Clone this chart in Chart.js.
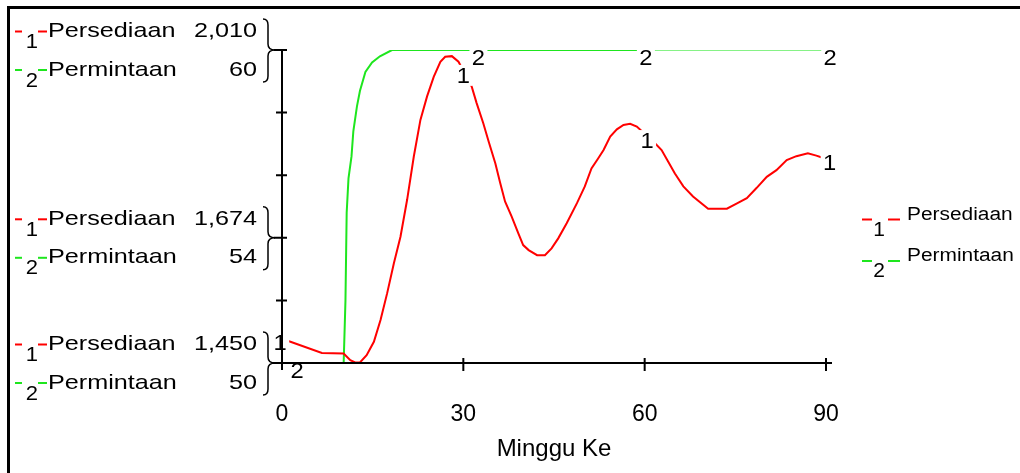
<!DOCTYPE html>
<html>
<head>
<meta charset="utf-8">
<script src="https://cdn.jsdelivr.net/npm/chart.js@4.4.1/dist/chart.umd.min.js"></script>
<style>
  html, body { margin: 0; padding: 0; background: #fff; }
  #wrap { width: 1020px; height: 473px; position: relative; }
</style>
</head>
<body>
<div id="wrap"><canvas id="chart" width="1020" height="473"></canvas></div>
<script>
// Persediaan (1)
const weekPersediaan = [0, 1.4, 6.6, 10.2, 11.3, 12.1, 12.9, 14.0, 15.2, 16.3, 17.4, 18.5, 19.6, 20.7, 21.8, 22.9, 24.0, 25.1, 26.2, 27.0, 28.1, 29.2,
  31.4, 32.2, 33.3, 34.2, 35.3, 36.1, 36.9, 38.0, 39.1, 39.9, 40.8, 42.2, 43.5, 44.6, 45.7, 47.1, 48.8, 50.1, 51.2, 52.3, 53.2, 54.3, 55.4, 56.5, 57.6, 58.7,
  61.7, 62.8, 63.9, 65.0, 66.4, 68.0, 70.5, 73.6, 75.2, 76.9, 78.5, 80.2, 81.8, 83.5, 85.1, 87.0, 88.4, 89.2, 90];
const valuesPersediaan = [1493, 1488, 1468, 1467, 1455, 1451, 1451, 1464, 1488, 1527, 1575, 1628, 1676, 1742, 1819, 1885, 1927, 1962, 1989, 1998, 1999, 1989,
  1944, 1915, 1879, 1846, 1807, 1772, 1739, 1712, 1682, 1661, 1652, 1643, 1643, 1655, 1673, 1700, 1736, 1766, 1798, 1816, 1831, 1855, 1868, 1876, 1878, 1873,
  1843, 1831, 1810, 1789, 1766, 1748, 1726, 1726, 1735, 1745, 1763, 1783, 1795, 1813, 1820, 1825, 1821, 1818, 1816];

// Permintaan (2)
const weekPermintaan = [0, 10.2, 10.5, 10.7, 11.0, 11.5, 11.8, 12.4, 12.9, 13.8, 14.9, 16.2, 18.2, 60, 90];
const valuesPermintaan = [50, 50, 52, 54.8, 55.9, 56.6, 57.4, 58.2, 58.7, 59.3, 59.6, 59.8, 60, 60, 60];

const xTicks = [0, 30, 60, 90];
const persediaanKeyValues = [2010, 1674, 1450];
const permintaanKeyValues = [60, 54, 50];
const persediaanLabelWeeks = [-0.3, 30, 60.4, 90.6];
const permintaanLabelWeeks = [2.5, 32.5, 60.2, 90.7];

const FONT = '"Liberation Sans", Arial, sans-serif';
const RED = '#ff0000';
const GREEN = '#1ee61e';
const GREEN_LIGHT = '#86f286';

function toPoints(xs, ys) {
  return xs.map((x, i) => ({ x: x, y: ys[i] }));
}

function valueAt(weeks, values, w) {
  for (let i = 1; i < weeks.length; i++) {
    if (w <= weeks[i] || i === weeks.length - 1) {
      if (w > weeks[i]) return values[i];
      const t = (w - weeks[i - 1]) / (weeks[i] - weeks[i - 1]);
      return values[i - 1] + t * (values[i] - values[i - 1]);
    }
  }
  return values[values.length - 1];
}

// text drawn with a slight horizontal stretch, y is the cap-height centre
function stretchText(ctx, text, x, y, size, sx, align) {
  ctx.save();
  ctx.font = size + 'px ' + FONT;
  ctx.fillStyle = '#000';
  ctx.textBaseline = 'alphabetic';
  ctx.textAlign = 'left';
  const w = ctx.measureText(text).width * sx;
  let left = x;
  if (align === 'right') left = x - w;
  if (align === 'center') left = x - w / 2;
  ctx.translate(left, y + size * 0.358);
  ctx.scale(sx, 1);
  ctx.fillText(text, 0, 0);
  ctx.restore();
  return w;
}

function dash(ctx, x1, x2, y, color) {
  ctx.save();
  ctx.strokeStyle = color;
  ctx.lineWidth = 2;
  ctx.beginPath();
  ctx.moveTo(x1, y);
  ctx.lineTo(x2, y);
  ctx.stroke();
  ctx.restore();
}

function drawKey(ctx, x, cy, num, color, label, k) {
  dash(ctx, x, x + k.d1, cy + k.dy, color);
  stretchText(ctx, num, x + k.nx, cy + k.ny, k.numSize, 1.05, 'center');
  dash(ctx, x + k.d2a, x + k.d2b, cy + k.dy, color);
  stretchText(ctx, label, x + k.tx, cy, k.size, k.sx, 'left');
}

function drawBrace(ctx, x, t) {
  ctx.save();
  ctx.strokeStyle = '#000';
  ctx.lineWidth = 1.5;
  ctx.beginPath();
  ctx.moveTo(x - 12, t - 31);
  ctx.quadraticCurveTo(x - 7, t - 31, x - 7, t - 25);
  ctx.lineTo(x - 7, t - 6);
  ctx.quadraticCurveTo(x - 7, t, x, t);
  ctx.quadraticCurveTo(x - 7, t, x - 7, t + 6);
  ctx.lineTo(x - 7, t + 26);
  ctx.quadraticCurveTo(x - 7, t + 32, x - 12, t + 32);
  ctx.stroke();
  ctx.restore();
}

const leftKey = { d1: 7, nx: 17, ny: 11, numSize: 21, d2a: 23, d2b: 32, tx: 33, dy: 2, size: 21, sx: 1.2 };
const rightKey = { d1: 10, nx: 17, ny: 15, numSize: 20, d2a: 26, d2b: 38, tx: 45, dy: 6, size: 18, sx: 1.16 };

const stellaDecor = {
  id: 'stellaDecor',
  beforeDraw(chart) {
    const ctx = chart.ctx;
    ctx.save();
    ctx.fillStyle = '#000';
    ctx.fillRect(7, 6, 1013, 3);
    ctx.fillRect(7, 6, 3, 467);
    ctx.restore();
  },
  afterDatasetsDraw(chart) {
    const ctx = chart.ctx;
    const xs = chart.scales.x;
    const y1 = chart.scales.y;
    const y2 = chart.scales.y2;

    // curve number labels on white boxes
    const labelSets = [
      { weeks: persediaanLabelWeeks, xsData: weekPersediaan, vals: valuesPersediaan, scale: y1, num: '1', dy: 4 },
      { weeks: permintaanLabelWeeks, xsData: weekPermintaan, vals: valuesPermintaan, scale: y2, num: '2', dy: 7 }
    ];
    labelSets.forEach((set) => {
      set.weeks.forEach((w) => {
        const px = xs.getPixelForValue(w);
        const py = set.scale.getPixelForValue(valueAt(set.xsData, set.vals, w)) + set.dy;
        ctx.save();
        ctx.fillStyle = '#fff';
        ctx.fillRect(px - 9, py - 10, 18, 21);
        ctx.restore();
        stretchText(ctx, set.num, px, py, 22, 1.08, 'center');
      });
    });

    // axes
    const ax = xs.getPixelForValue(0);
    const bottom = y1.getPixelForValue(1450);
    const top = y1.getPixelForValue(2010);
    ctx.save();
    ctx.strokeStyle = '#000';
    ctx.lineWidth = 2;
    ctx.beginPath();
    ctx.moveTo(ax, top);
    ctx.lineTo(ax, bottom + 7);
    ctx.moveTo(ax - 10, bottom);
    ctx.lineTo(xs.getPixelForValue(90) + 6, bottom);
    for (let v = 1450; v <= 2010; v += 112) {
      const py = y1.getPixelForValue(v);
      ctx.moveTo(ax - 6, py);
      ctx.lineTo(ax + 5, py);
    }
    persediaanKeyValues.forEach((v) => {
      const py = y1.getPixelForValue(v);
      ctx.moveTo(ax - 8, py);
      ctx.lineTo(ax, py);
    });
    xTicks.slice(1).forEach((w) => {
      const px = xs.getPixelForValue(w);
      ctx.moveTo(px, bottom - 5);
      ctx.lineTo(px, bottom + 8);
    });
    ctx.stroke();
    ctx.restore();

    // left scale keys with braces
    persediaanKeyValues.forEach((v, i) => {
      const t = y1.getPixelForValue(v);
      drawBrace(ctx, ax - 7, t);
      drawKey(ctx, 15, t - 20.5, '1', RED, 'Persediaan', leftKey);
      stretchText(ctx, v.toLocaleString('en-US'), 257, t - 20.5, 21, 1.2, 'right');
      drawKey(ctx, 15, t + 18, '2', GREEN, 'Permintaan', leftKey);
      stretchText(ctx, String(permintaanKeyValues[i]), 257, t + 18, 21, 1.2, 'right');
    });

    // right legend
    drawKey(ctx, 862, 213.5, '1', RED, 'Persediaan', rightKey);
    drawKey(ctx, 862, 255, '2', GREEN, 'Permintaan', rightKey);
  }
};

new Chart(document.getElementById('chart'), {
  type: 'line',
  data: {
    datasets: [
      {
        label: 'Persediaan',
        data: toPoints(weekPersediaan, valuesPersediaan),
        borderColor: RED,
        borderWidth: 2,
        pointRadius: 0,
        tension: 0,
        fill: false,
        yAxisID: 'y'
      },
      {
        label: 'Permintaan',
        data: toPoints(weekPermintaan, valuesPermintaan),
        borderColor: GREEN,
        borderWidth: 2,
        pointRadius: 0,
        tension: 0,
        fill: false,
        yAxisID: 'y2',
        segment: {
          borderColor: (c) => (c.p0.parsed.x >= 60 ? GREEN_LIGHT : GREEN)
        }
      }
    ]
  },
  options: {
    responsive: false,
    animation: false,
    layout: { padding: { top: 50, right: 194, left: 0, bottom: 0 } },
    plugins: { legend: { display: false }, tooltip: { enabled: false } },
    scales: {
      x: {
        type: 'linear',
        min: 0,
        max: 90,
        afterBuildTicks: (s) => { s.ticks = xTicks.map((v) => ({ value: v })); },
        afterFit: (s) => { s.height = 110; },
        grid: { display: false, drawTicks: false },
        border: { display: false },
        ticks: {
          color: '#000',
          padding: 38,
          maxRotation: 0,
          font: { family: FONT, size: 23 },
          callback: (v) => String(v)
        },
        title: {
          display: true,
          text: 'Minggu Ke',
          color: '#000',
          padding: { top: 9, bottom: 9 },
          font: { family: FONT, size: 24 }
        }
      },
      y: {
        type: 'linear',
        position: 'left',
        min: 1450,
        max: 2010,
        afterFit: (s) => { s.width = 282; },
        grid: { display: false },
        border: { display: false },
        ticks: { display: false }
      },
      y2: {
        type: 'linear',
        position: 'left',
        min: 50,
        max: 60,
        display: false
      }
    }
  },
  plugins: [stellaDecor]
});
</script>
</body>
</html>
